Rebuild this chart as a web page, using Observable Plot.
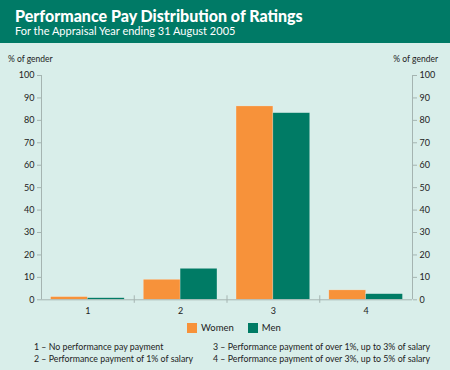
<!DOCTYPE html>
<html><head><meta charset="utf-8">
<script src="https://cdn.jsdelivr.net/npm/d3@7"></script>
<script src="https://cdn.jsdelivr.net/npm/@observablehq/plot@0.6"></script>
<style>
body{margin:0;}
#wrap{position:relative;width:450px;height:370px;background:#D9EEEA;font-family:Lato,"DejaVu Sans",sans-serif;color:#222;overflow:hidden;}
#hdr{position:absolute;left:0;top:0;width:450px;height:43px;background:#007A66;color:#fff;}
#title{position:absolute;left:15px;top:8px;font-size:16px;line-height:1;font-weight:900;white-space:nowrap;}
#sub{position:absolute;left:15px;top:25px;font-size:11px;line-height:1;white-space:nowrap;}
.unit{position:absolute;top:54px;font-size:8.5px;white-space:nowrap;}
#chart{position:absolute;left:0;top:50px;}
#legend{position:absolute;top:322px;left:187px;font-size:9.5px;display:flex;align-items:center;}
.sw{display:inline-block;width:10px;height:10px;margin-right:4px;}
.note{position:absolute;font-size:8.8px;line-height:1;white-space:nowrap;}
</style></head>
<body><div id="wrap">
<div id="hdr"><div id="title"></div><div id="sub"></div></div>
<div class="unit" id="uL" style="left:8px"></div>
<div class="unit" id="uR" style="right:12px"></div>
<div id="chart"></div>
<div id="legend"></div>
<div id="notes"></div>
</div>
<script>
const title = "Performance Pay Distribution of Ratings";
const subtitle = "For the Appraisal Year ending 31 August 2005";
const unitLabel = "% of gender";
const categories = [1, 2, 3, 4];
const women = [1.2, 8.9, 86.2, 4.2];
const men = [0.7, 13.8, 83.2, 2.5];
const series = ["Women", "Men"];
const colors = ["#F7923A", "#007B65"];
const yTicks = [0, 10, 20, 30, 40, 50, 60, 70, 80, 90, 100];
const xDomain = [0.5, 4.5];
const boundaries = [1.5, 2.5, 3.5];
const notes = [
  "1 – No performance pay payment",
  "2 – Performance payment of 1% of salary",
  "3 – Performance payment of over 1%, up to 3% of salary",
  "4 – Performance payment of over 3%, up to 5% of salary"
];

document.getElementById("title").textContent = title;
document.getElementById("sub").textContent = subtitle;
document.getElementById("uL").textContent = unitLabel;
document.getElementById("uR").textContent = unitLabel;

const data = [];
categories.forEach((c, i) => {
  data.push({cat: c, g: "Women", v: women[i]});
  data.push({cat: c, g: "Men", v: men[i]});
});
const half = 0.397;
const gray = "#A5B4B1";

const plot = Plot.plot({
  width: 450, height: 270,
  marginLeft: 41, marginRight: 38, marginTop: 25, marginBottom: 20.7,
  style: {background: "transparent", fontFamily: "Lato, 'DejaVu Sans', sans-serif", fontSize: "9px", color: "#222"},
  x: {type: "linear", domain: xDomain, axis: null},
  y: {domain: [0, 100], axis: null},
  color: {domain: series, range: colors},
  marks: [
    Plot.rectY(data, {
      x1: d => d.g === "Women" ? d.cat - half : d.cat,
      x2: d => d.g === "Women" ? d.cat : d.cat + half,
      y1: 0, y2: "v", fill: "g", stroke: "#ffffff", strokeOpacity: 0.35, strokeWidth: 0.6
    }),
    Plot.ruleY([0], {stroke: gray, strokeWidth: 1}),
    Plot.ruleX(xDomain, {y1: 0, y2: 100, stroke: gray, strokeWidth: 1}),
    Plot.ruleX(boundaries, {y1: 0, y2: 0, insetTop: -4, insetBottom: -3.5, stroke: gray, strokeWidth: 1}),
    Plot.axisY({anchor: "left", ticks: yTicks, tickSize: 4, tickPadding: 3, stroke: gray, fill: "#222", label: null}),
    Plot.axisY({anchor: "right", ticks: yTicks, tickSize: 4, tickPadding: 3, stroke: gray, fill: "#222", label: null}),
    Plot.axisX({ticks: categories, tickSize: 0, tickPadding: 8, tickFormat: d => String(d), fill: "#222", label: null})
  ]
});
document.getElementById("chart").appendChild(plot);

const leg = document.getElementById("legend");
series.forEach((s, i) => {
  const sp = document.createElement("span");
  sp.style.display = "inline-flex"; sp.style.alignItems = "center"; sp.style.marginRight = i === 0 ? "14px" : "0";
  sp.innerHTML = `<span class="sw" style="background:${colors[i]}"></span>${s}`;
  leg.appendChild(sp);
});
const pos = [[34, 343], [34, 355], [213, 343], [213, 355]];
const nd = document.getElementById("notes");
notes.forEach((t, i) => {
  const d = document.createElement("div");
  d.className = "note"; d.style.left = pos[i][0] + "px"; d.style.top = pos[i][1] + "px";
  d.textContent = t; nd.appendChild(d);
});
</script></body></html>
